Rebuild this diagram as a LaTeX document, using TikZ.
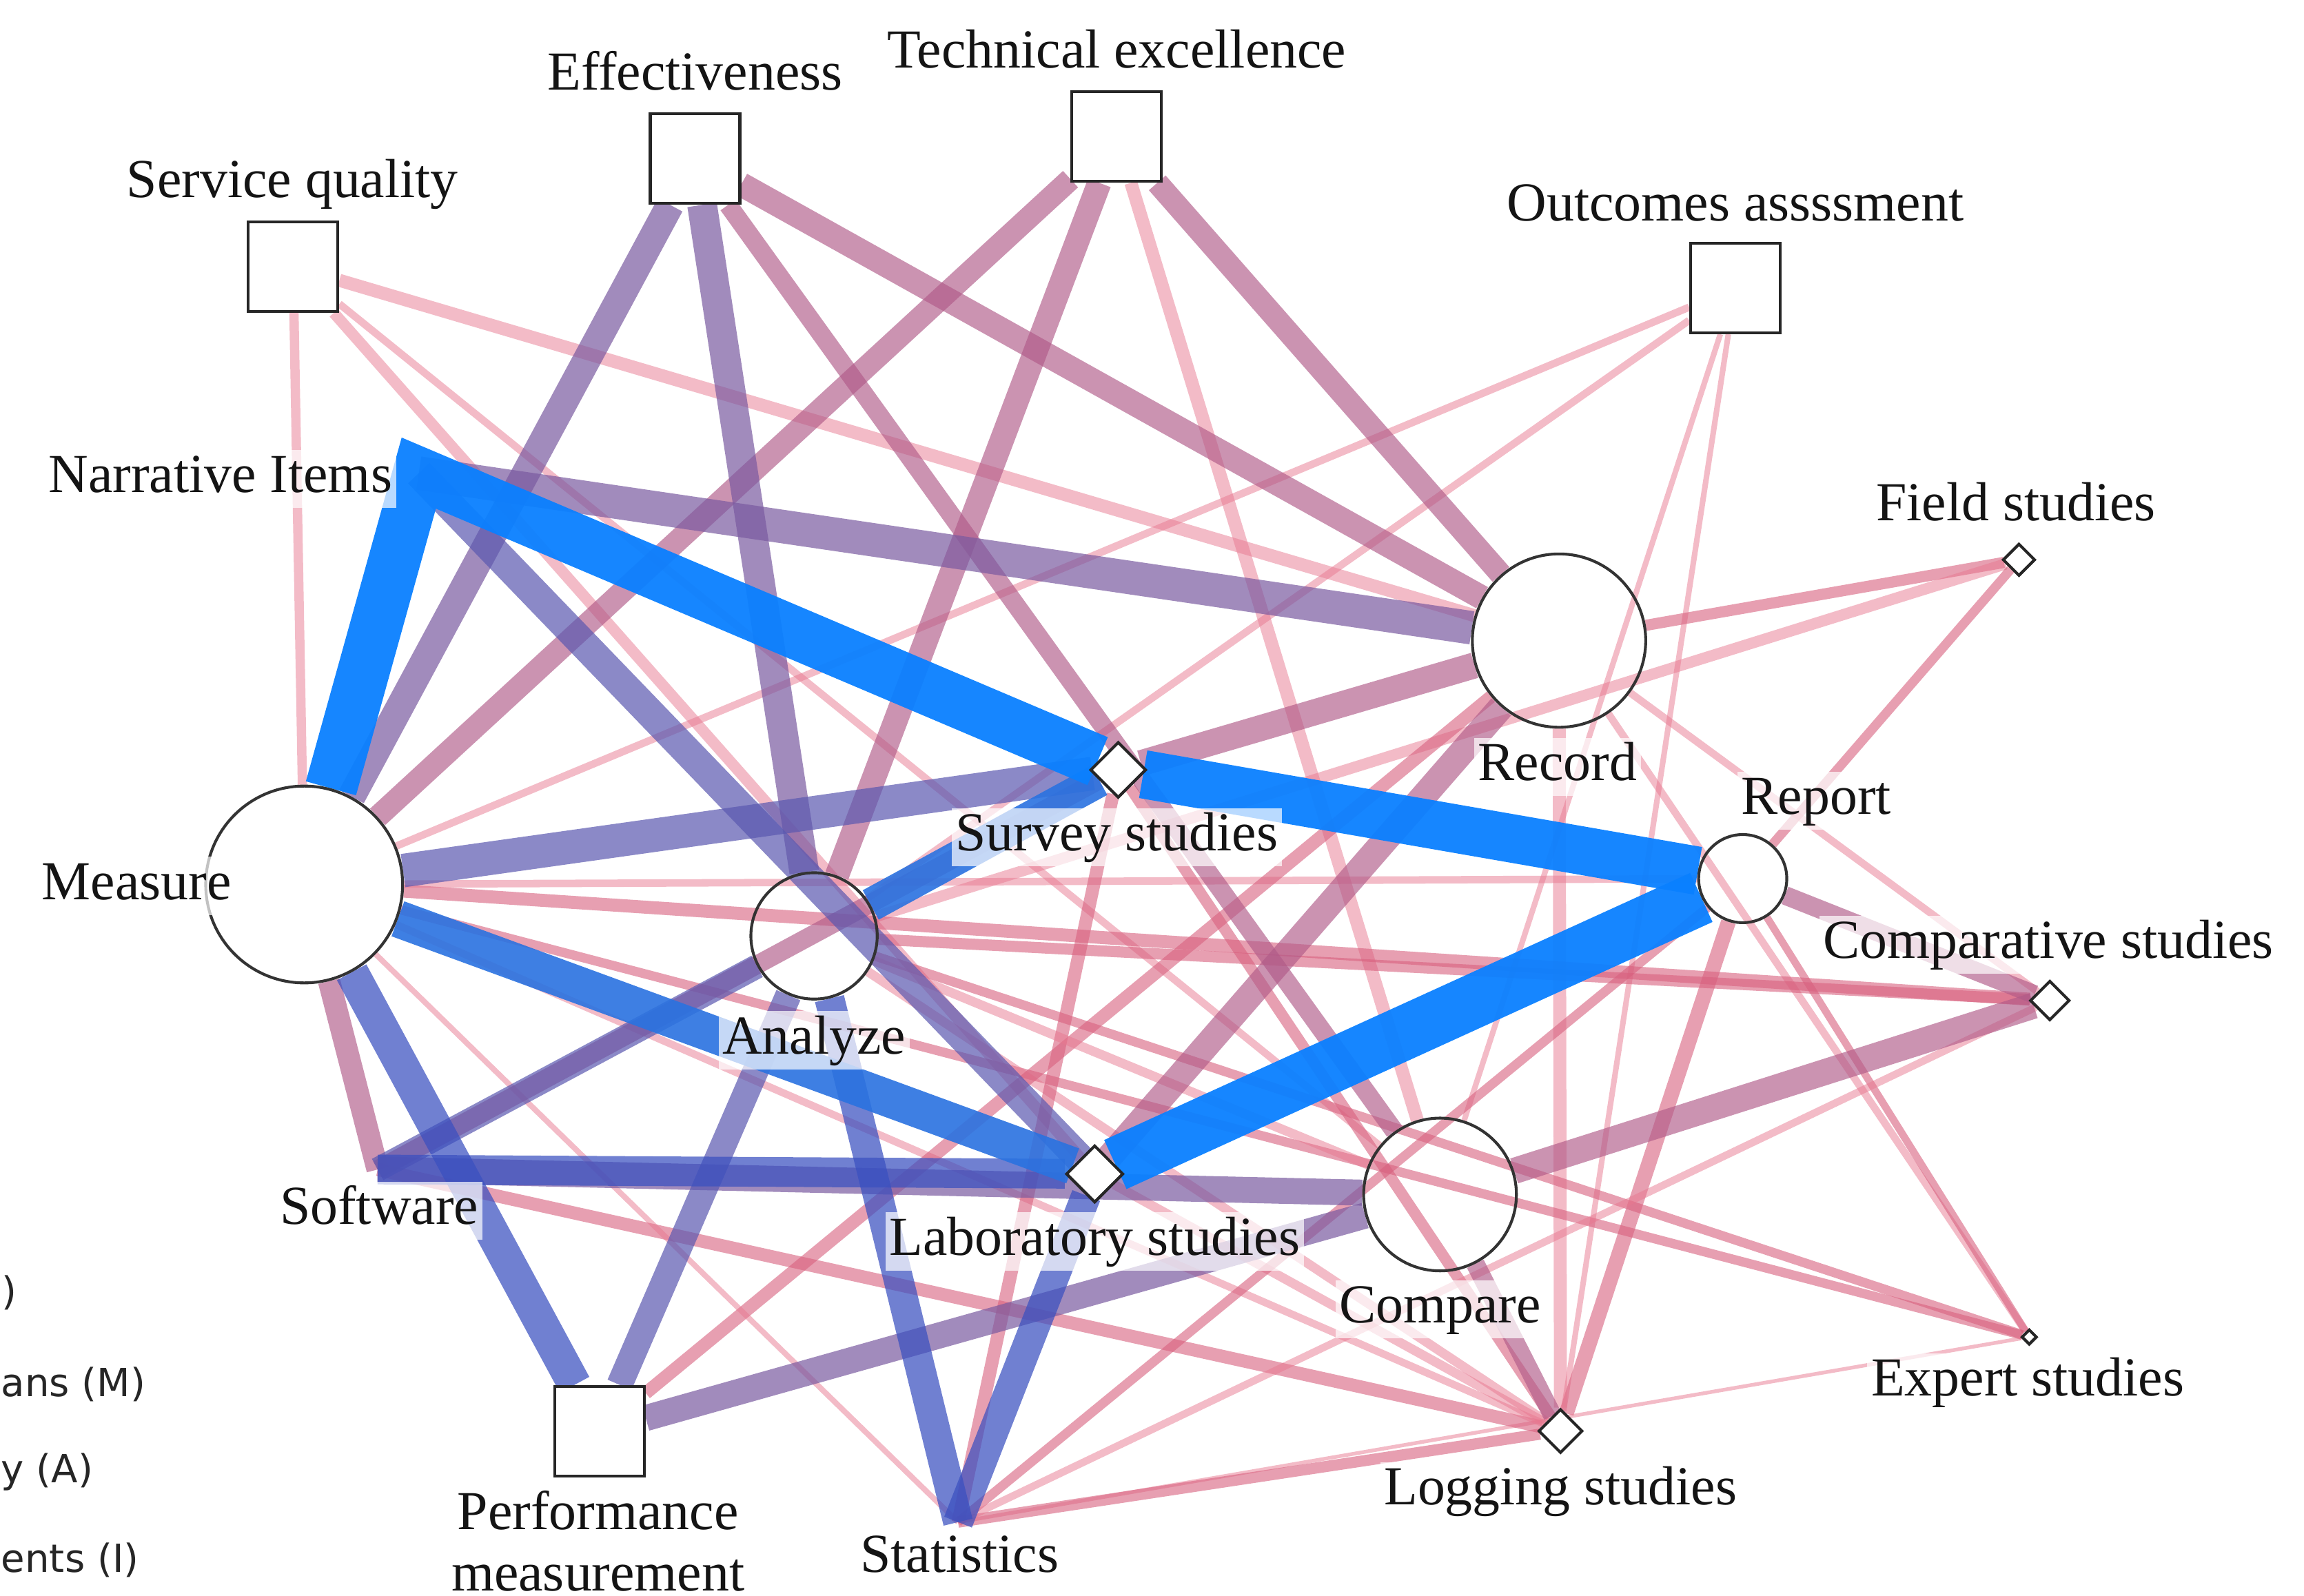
\documentclass[tikz,border=0pt]{standalone}
\usepackage{fontspec}
\setmainfont{Liberation Serif}
\newfontfamily\legendfont{DejaVu Sans}
\usetikzlibrary{shapes.geometric,backgrounds}
\definecolor{cLP}{HTML}{E87890}
\definecolor{cPK}{HTML}{D8607E}
\definecolor{cMV}{HTML}{B05A88}
\definecolor{cPU}{HTML}{7A5AA0}
\definecolor{cPI}{HTML}{5A58B0}
\definecolor{cIN}{HTML}{3A50C0}
\definecolor{cBM}{HTML}{2A72E0}
\definecolor{cBL}{HTML}{0A80FF}
\begin{document}
\begin{tikzpicture}[x=0.02cm,y=-0.02cm,
  sq/.style={rectangle,draw=black!85,line width=1.1pt,fill=white,minimum size=1.22cm,inner sep=0pt},
  circ/.style={circle,draw=black!80,line width=1.1pt,inner sep=0pt},
  dia/.style={diamond,aspect=1,draw=black!85,line width=1.1pt,fill=white,inner sep=0pt},
  lbl/.style={font=\fontsize{21.3}{23.8}\selectfont,text=black!92,fill=white,fill opacity=0.7,text opacity=1,inner sep=1.5pt,text height=15pt,text depth=4.5pt},
  leg/.style={font=\legendfont\fontsize{15}{18}\selectfont,text=black!85,inner sep=0pt},
  ewd/.style={line width=#1*0.72pt},
  eLP/.style={draw=cLP,draw opacity=0.5},
  ePK/.style={draw=cPK,draw opacity=0.6},
  eMV/.style={draw=cMV,draw opacity=0.65},
  ePU/.style={draw=cPU,draw opacity=0.7},
  ePI/.style={draw=cPI,draw opacity=0.7},
  eIN/.style={draw=cIN,draw opacity=0.72},
  eBM/.style={draw=cBM,draw opacity=0.9},
  eBL/.style={draw=cBL,draw opacity=0.95}]
\useasboundingbox (0,0) rectangle (1568,1086);

% ---------- nodes ----------
\node[sq] (SQ) at (199.5,181.5) {};
\node[sq] (EF) at (473,108) {};
\node[sq] (TE) at (760,93) {};
\node[sq] (OA) at (1181,196) {};
\node[sq] (PM) at (408,974) {};
\coordinate (NI) at (285,322);
\coordinate (SW) at (257,796);
\coordinate (ST) at (652,1036);
\node[circ,minimum size=2.68cm] (ME) at (207,602) {};
\node[circ,minimum size=2.36cm] (RC) at (1061,436) {};
\node[circ,minimum size=2.08cm] (CP) at (980,813) {};
\node[circ,minimum size=1.72cm] (AN) at (554,637) {};
\node[circ,minimum size=1.2cm] (RP) at (1186,598) {};
\node[dia,minimum size=0.76cm] (SS) at (761,524) {};
\node[dia,minimum size=0.78cm] (LS) at (745,799) {};
\node[dia,minimum size=0.54cm] (CS) at (1395,681) {};
\node[dia,minimum size=0.60cm] (LG) at (1062,974) {};
\node[dia,minimum size=0.44cm] (FS) at (1374,381) {};
\node[dia,minimum size=0.21cm] (ES) at (1381,910) {};

% ---------- labels ----------
\node[lbl] (SQl) at (199,125) {Service quality};
\node[lbl] (EFl) at (473,52) {Effectiveness};
\node[lbl] (TEl) at (760,37) {Technical excellence};
\node[lbl] (OAl) at (1181,141) {Outcomes assssment};
\node[lbl] (NIl) at (150,326) {Narrative Items};
\node[lbl] (FSl) at (1372,345) {Field studies};
\node[lbl] (RCl) at (1060,522) {Record};
\node[lbl] (SSl) at (760,570) {Survey studies};
\node[lbl] (RPl) at (1236,545) {Report};
\node[lbl] (MEl) at (93,603) {Measure};
\node[lbl] (ANl) at (554,708) {Analyze};
\node[lbl] (CSl) at (1394,643) {Comparative studies};
\node[lbl] (SWl) at (258,824) {Software};
\node[lbl] (LSl) at (745,845) {Laboratory studies};
\node[lbl] (CPl) at (980,891) {Compare};
\node[lbl] (ESl) at (1380,941) {Expert studies};
\node[lbl] (LGl) at (1062,1015) {Logging studies};
\node[lbl] (STl) at (653,1061) {Statistics};
\node[lbl,fill=none,text height=,text depth=,align=center] (PMl) at (407,1049) {Performance\\measurement};

% ---------- legend (cut off at the left edge, as in the source) ----------
\node[leg,anchor=east] (L1) at (11.7,880) {D)};
\node[leg,anchor=west] (L2) at (0.5,942) {ans (M)};
\node[leg,anchor=west] (L3) at (0.5,1002) {y (A)};
\node[leg,anchor=west] (L4) at (0.5,1062) {ents (I)};

% ---------- connectors ----------
\begin{pgfonlayer}{background}
\fill[white] (0,0) rectangle (1568,1086);
% light pink / pink
\draw[eLP,ewd=5] (SQ) -- (ME);
\draw[eLP,ewd=7] (SQ) -- (RC);
\draw[eLP,ewd=6] (SQ) -- (LS);
\draw[eLP,ewd=4] (SQ) -- (CP);
\draw[eLP,ewd=4] (OA) -- (ME);
\draw[eLP,ewd=4] (OA) -- (AN);
\draw[eLP,ewd=3] (OA) -- (LG);
\draw[eLP,ewd=3] (OA) -- (CP);
\draw[eLP,ewd=7] (TE) -- (CP);
\draw[ePK,ewd=6] (FS) -- (RC);
\draw[eLP,ewd=6] (FS) -- (AN);
\draw[ePK,ewd=5] (FS) -- (RP);
\draw[eLP,ewd=4] (RC) -- (ES);
\draw[ePK,ewd=4] (RP) -- (ES);
\draw[eLP,ewd=4] (RC) -- (CS);
\draw[ePK,ewd=8] (RP) -- (LG);
\draw[eLP,ewd=7] (RC) -- (LG);
\draw[ePK,ewd=7] (ME) -- (CS);
\draw[ePK,ewd=6] (AN) -- (CS);
\draw[eLP,ewd=4] (ME) -- (RP);
\draw[ePK,ewd=5] (ME) -- (ES);
\draw[ePK,ewd=5] (AN) -- (ES);
\draw[eLP,ewd=2] (ST) -- (ES);
\draw[ePK,ewd=7] (SW) -- (LG);
\draw[ePK,ewd=6] (ST) -- (LG);
\draw[ePK,ewd=6] (SS) -- (LG);
\draw[eLP,ewd=5] (AN) -- (LG);
\draw[eLP,ewd=4] (ME) -- (LG);
\draw[eLP,ewd=5] (LS) -- (LG);
\draw[ePK,ewd=7] (SS) -- (ST);
\draw[ePK,ewd=5] (ST) -- (RP);
\draw[eLP,ewd=4] (ST) -- (CS);
\draw[ePK,ewd=7] (PM) -- (RC);
\draw[eLP,ewd=3] (ME) -- (ST);
\draw[eLP,ewd=5] (AN) -- (CP);
% mauve
\draw[eMV,ewd=10] (CP) -- (LG);
\draw[eMV,ewd=10] (EF) -- (CP);
\draw[eMV,ewd=10] (SW) -- (SS);
\draw[eMV,ewd=12] (ME) -- (SW);
\draw[eMV,ewd=12] (ME) -- (TE);
\draw[eMV,ewd=12] (TE) -- (RC);
\draw[eMV,ewd=13] (EF) -- (RC);
\draw[eMV,ewd=13] (TE) -- (AN);
\draw[eMV,ewd=10] (RP) -- (CS);
\draw[eMV,ewd=14] (CP) -- (CS);
\draw[eMV,ewd=14] (RC) -- (SS);
\draw[eMV,ewd=14] (RC) -- (LS);
% purple
\draw[ePU,ewd=18] (NI) -- (RC);
\draw[ePU,ewd=15] (EF) -- (ME);
\draw[ePU,ewd=16] (EF) -- (AN);
\draw[ePI,ewd=16] (NI) -- (LS);
\draw[ePI,ewd=18] (ME) -- (SS);
\draw[ePI,ewd=13] (SW) -- (AN);
\draw[ePU,ewd=14] (SW) -- (CP);
\draw[ePI,ewd=14] (AN) -- (PM);
\draw[ePU,ewd=14] (PM) -- (CP);
% indigo
\draw[eIN,ewd=16] (SW) -- (LS);
\draw[eIN,ewd=16] (AN) -- (ST);
\draw[eIN,ewd=16] (LS) -- (ST);
\draw[eIN,ewd=18] (ME) -- (PM);
% blue
\draw[eBM,ewd=18] (AN) -- (SS);
\draw[eBM,ewd=20] (ME) -- (LS);
\draw[eBL,ewd=28] (ME) -- (NI) -- (SS);
\draw[eBL,ewd=26] (SS) -- (RP);
\draw[eBL,ewd=29] (RP) -- (LS);
\end{pgfonlayer}
\end{tikzpicture}
\end{document}
